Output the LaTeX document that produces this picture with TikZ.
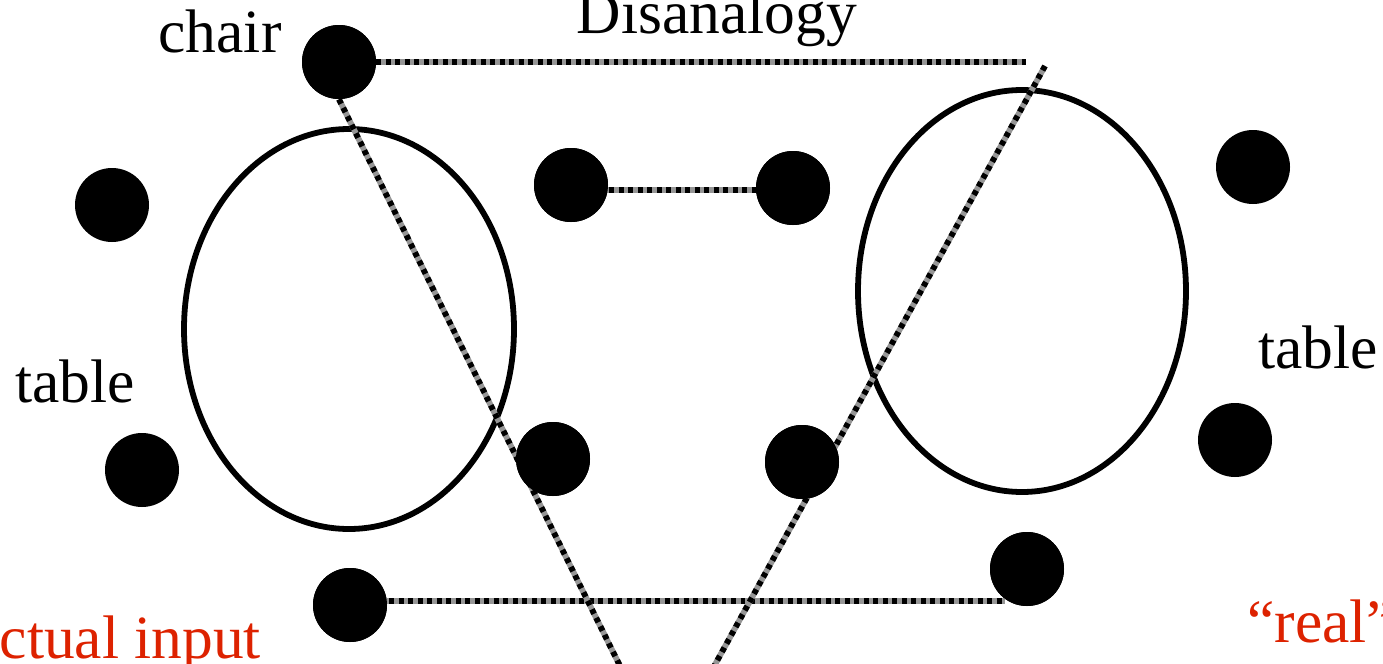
\documentclass[tikz,border=0pt]{standalone}
\usepackage{fontspec}
\setmainfont{Liberation Serif}
\definecolor{redtxt}{RGB}{221,34,0}
\definecolor{gapgrey}{RGB}{150,150,150}
\begin{document}
\begin{tikzpicture}[x=0.02cm,y=-0.02cm,
  dot/.style={circle,fill=black,minimum size=74*0.02cm,inner sep=0pt},
  lbl/.style={font=\fontsize{35}{42}\selectfont,anchor=base,inner sep=0pt},
  redlbl/.style={lbl,text=redtxt},
  conn/.style={line width=3.3pt,black,dash pattern=on 2.8pt off 2.6pt,
    preaction={draw,line width=3.3pt,gapgrey,solid}},
  loop/.style={line width=3.3pt,black}]
\useasboundingbox (0,0) rectangle (1383,663);
\clip (0,0) rectangle (1383,663);
% coordinates for free ends
\coordinate (topend) at (1026,62);
\coordinate (slashtop) at (1045,66);
\coordinate (slashbot) at (712,670);
\coordinate (leftbot) at (622,670);
\coordinate (midA) at (600,190);
\coordinate (midB) at (760,190);
\coordinate (botA) at (380,601);
\coordinate (botB) at (1005,601);
% dots
\node[dot] (chair) at (339,62) {};
\node[dot] (l1) at (112,205) {};
\node[dot] (l2) at (142,470) {};
\node[dot] (m1) at (571,185) {};
\node[dot] (m2) at (793,188) {};
\node[dot] (m3) at (553,459) {};
\node[dot] (m4) at (802,462) {};
\node[dot] (r1) at (1253,167) {};
\node[dot] (r2) at (1235,440) {};
\node[dot] (b1) at (350,605) {};
\node[dot] (b2) at (1027,569) {};
% ellipses
\draw[loop] (349,329) ellipse [x radius=165, y radius=200];
\draw[loop] (1022,291) ellipse [x radius=164, y radius=201];
% connectors
\draw[conn] (chair.east) -- (topend);
\draw[conn] (midA) -- (midB);
\draw[conn] (botA) -- (botB);
\draw[conn] (chair.south) -- (leftbot);
\draw[conn] (slashtop) -- (slashbot);
% redraw dots over lines
\foreach \n in {chair,m1,m2,m3,m4,b1,b2}{\fill (\n) circle (37);}
% labels
\node[lbl] (tchair) at (220,52) {chair};
\node[lbl] (tdis) at (717,33) {Disanalogy};
\node[lbl,anchor=base west] (tl) at (15,402) {table};
\node[lbl,anchor=base west] (tr) at (1258,368) {table};
\node[redlbl,anchor=base west] (tin) at (-45,658) {Actual input};
\node[redlbl,anchor=base west] (treal) at (1247,642) {“real”};
\end{tikzpicture}
\end{document}
